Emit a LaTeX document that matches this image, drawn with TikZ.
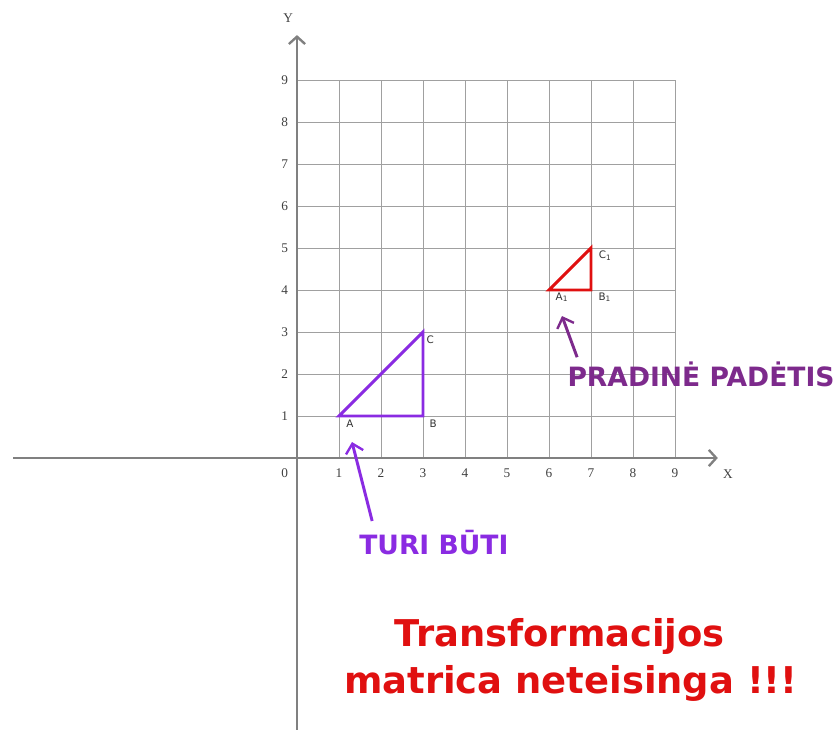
\documentclass[tikz,border=0pt]{standalone}
\usepackage{fontspec}
\setmainfont{Liberation Serif}
\newfontfamily\bigsans{DejaVu Sans}
\usetikzlibrary{arrows.meta}
\definecolor{axisgray}{HTML}{808080}
\definecolor{gridgray}{HTML}{A0A0A0}
\definecolor{violetA}{HTML}{8A2BE2}
\definecolor{plumB}{HTML}{7D2A8C}
\definecolor{redC}{HTML}{E01010}
\begin{document}
\begin{tikzpicture}[x=1cm,y=1cm,
  axisline/.style={axisgray,line width=2pt,-{Straight Barb[length=5pt,width=11pt,line width=1.6pt]}},
  gridline/.style={gridgray,line width=0.6pt},
  numlab/.style={font=\fontsize{9}{10}\selectfont,text=black!75},
  vlab/.style={font=\bigsans\fontsize{7}{8}\selectfont,text=black!80},
  pointer/.style={line width=2pt,-{Straight Barb[length=6pt,width=12pt,line width=1.6pt]}},
  bigtxt/.style={font=\bigsans\bfseries\fontsize{18}{21}\selectfont}]
\useasboundingbox (-7.071,-6.476) rectangle (12.810,10.905);
\fill[white] (-7.071,-6.476) rectangle (12.810,10.905);
% grid
\foreach \i in {1,...,9} {
  \draw[gridline] (\i,0) -- (\i,9);
  \draw[gridline] (0,\i) -- (9,\i);
}
% axes
\coordinate (xs) at (-6.76,0);
\coordinate (xe) at (10.02,0);
\coordinate (ys) at (0,-6.5);
\coordinate (ye) at (0,10.07);
\draw[axisline] (xs) -- (xe);
\draw[axisline] (ys) -- (ye);
\node[numlab] (xlab) at (10.26,-0.38) {X};
\node[numlab] (ylab) at (-0.21,10.48) {Y};
\node[numlab] (n0) at (-0.29,-0.36) {0};
\foreach \i in {1,...,9} {
  \node[numlab] (nx\i) at (\i,-0.36) {\i};
  \node[numlab] (ny\i) at (-0.29,\i) {\i};
}
% purple triangle
\coordinate (A) at (1,1);
\coordinate (B) at (3,1);
\coordinate (C) at (3,3);
\draw[violetA,line width=2pt,line join=miter] (A) -- (B) -- (C) -- cycle;
\node[vlab] (la) at (1.26,0.81) {A};
\node[vlab] (lb) at (3.24,0.81) {B};
\node[vlab] (lc) at (3.17,2.81) {C};
% red triangle
\coordinate (A1) at (6,4);
\coordinate (B1) at (7,4);
\coordinate (C1) at (7,5);
\draw[redC,line width=2pt,line join=miter] (A1) -- (B1) -- (C1) -- cycle;
\node[vlab] (la1) at (6.30,3.83) {A\raisebox{-0.3ex}{\fontsize{5}{5}\selectfont 1}};
\node[vlab] (lb1) at (7.32,3.83) {B\raisebox{-0.3ex}{\fontsize{5}{5}\selectfont 1}};
\node[vlab] (lc1) at (7.33,4.81) {C\raisebox{-0.3ex}{\fontsize{5}{5}\selectfont 1}};
% pointers
\coordinate (t1s) at (1.79,-1.5);
\coordinate (t1e) at (1.31,0.38);
\draw[pointer,violetA] (t1s) -- (t1e);
\coordinate (t2s) at (6.67,2.40);
\coordinate (t2e) at (6.31,3.38);
\draw[pointer,plumB] (t2s) -- (t2e);
% texts
\node[bigtxt,text=violetA] (turi) at (3.26,-2.02) {TURI BŪTI};
\node[bigtxt,text=plumB] (prad) at (9.62,1.98) {PRADINĖ PADĖTIS};
\node[font=\bigsans\bfseries\fontsize{25}{30}\selectfont,text=redC] (tr1) at (6.26,-4.26) {Transformacijos};
\node[font=\bigsans\bfseries\fontsize{25}{30}\selectfont,text=redC] (tr2) at (6.52,-5.36) {matrica neteisinga !!!};
\end{tikzpicture}
\end{document}
